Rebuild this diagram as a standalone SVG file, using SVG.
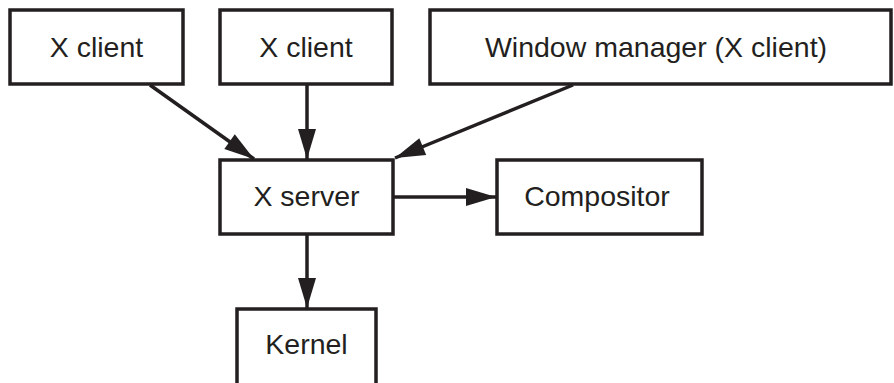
<svg xmlns="http://www.w3.org/2000/svg" width="894" height="383" viewBox="0 0 894 383">
<style>
.box{fill:#fff;stroke:#231f20;stroke-width:3.5}
.lbl{font-family:"Liberation Sans",Arial,sans-serif;font-size:28.5px;fill:#231f20;text-anchor:middle}
.conn{stroke:#231f20;stroke-width:3.5;fill:none}
</style>
<defs>
<marker id="ah" markerUnits="userSpaceOnUse" markerWidth="32" markerHeight="20" refX="30" refY="9" orient="auto" overflow="visible">
<path d="M0,0 L30,9 L0,18 Z" fill="#231f20"/>
</marker>
</defs>
<rect width="894" height="383" fill="#fff"/>
<g id="connectors">
<line class="conn" x1="150" y1="85" x2="254" y2="159" marker-end="url(#ah)"/>
<line class="conn" x1="307" y1="85" x2="307" y2="159" marker-end="url(#ah)"/>
<line class="conn" x1="573" y1="85" x2="395" y2="158" marker-end="url(#ah)"/>
<line class="conn" x1="393" y1="197" x2="496" y2="197" marker-end="url(#ah)"/>
<line class="conn" x1="307" y1="234" x2="307" y2="308" marker-end="url(#ah)"/>
</g>
<g id="xclient1"><rect class="box" x="10" y="10" width="173" height="74"/><text class="lbl" x="96.5" y="57">X client</text></g>
<g id="xclient2"><rect class="box" x="220" y="10" width="172" height="74"/><text class="lbl" x="306" y="57">X client</text></g>
<g id="wm"><rect class="box" x="430" y="10" width="461" height="74"/><text class="lbl" x="656" y="57">Window manager (X client)</text></g>
<g id="xserver"><rect class="box" x="220" y="160" width="173" height="74"/><text class="lbl" x="306.5" y="206">X server</text></g>
<g id="compositor"><rect class="box" x="497" y="160" width="205" height="74"/><text class="lbl" x="597" y="206">Compositor</text></g>
<g id="kernel"><rect class="box" x="237" y="309" width="139" height="80"/><text class="lbl" x="306.5" y="354">Kernel</text></g>
</svg>
